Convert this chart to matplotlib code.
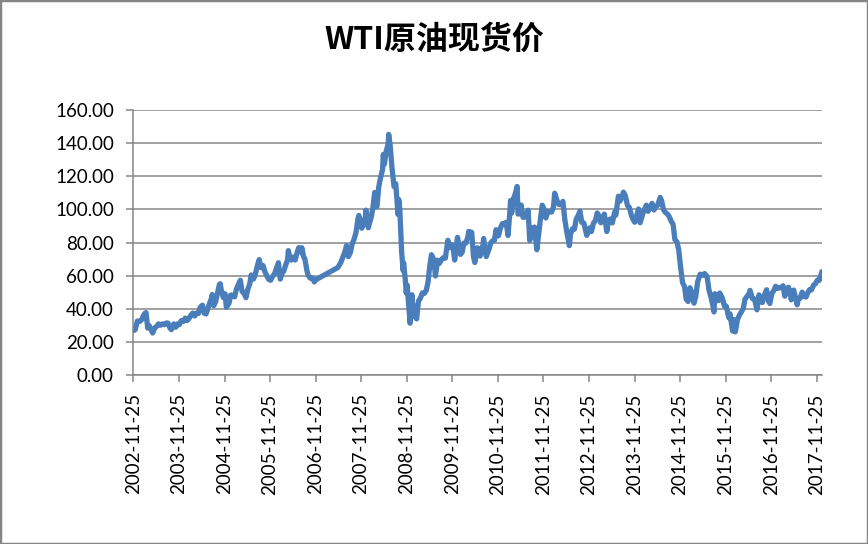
import matplotlib
matplotlib.use("Agg")
import matplotlib.pyplot as plt
import matplotlib.dates as mdates
from matplotlib.patches import Rectangle
import pandas as pd

# WTI spot price (roughly twice a month, plus peaks/troughs)
dates = [
    "2002-11-25", "2002-12-10", "2002-12-27", "2003-01-15", "2003-01-31", "2003-02-14", "2003-02-27",
    "2003-03-07", "2003-03-20", "2003-04-01", "2003-04-29", "2003-05-15", "2003-05-30", "2003-06-15",
    "2003-06-30", "2003-07-15", "2003-07-31", "2003-08-15", "2003-08-29", "2003-09-15", "2003-09-26",
    "2003-10-15", "2003-10-31", "2003-11-14", "2003-11-28", "2003-12-15", "2003-12-31", "2004-01-15",
    "2004-01-30", "2004-02-13", "2004-02-27", "2004-03-15", "2004-03-31", "2004-04-15", "2004-04-30",
    "2004-05-14", "2004-06-01", "2004-06-15", "2004-06-30", "2004-07-15", "2004-07-30", "2004-08-13",
    "2004-08-19", "2004-08-31", "2004-09-15", "2004-09-30", "2004-10-15", "2004-10-22", "2004-10-29",
    "2004-11-15", "2004-11-30", "2004-12-10", "2004-12-31", "2005-01-14", "2005-01-31", "2005-02-14",
    "2005-02-28", "2005-03-15", "2005-04-01", "2005-04-15", "2005-04-29", "2005-05-16", "2005-05-31",
    "2005-06-15", "2005-06-27", "2005-07-15", "2005-07-29", "2005-08-15", "2005-08-30", "2005-09-15",
    "2005-09-30", "2005-10-14", "2005-10-31", "2005-11-15", "2005-11-30", "2005-12-15", "2005-12-30",
    "2006-01-13", "2006-01-31", "2006-02-15", "2006-02-28", "2006-03-15", "2006-03-31", "2006-04-14",
    "2006-04-21", "2006-05-05", "2006-05-15", "2006-05-31", "2006-06-15", "2006-06-30", "2006-07-14",
    "2006-07-31", "2006-08-07", "2006-08-21", "2006-08-31", "2006-09-15", "2006-09-25", "2006-10-13",
    "2006-10-31", "2006-11-15", "2006-11-24",
    # gap in the source data until late May 2007
    "2007-05-23", "2007-06-15", "2007-06-29", "2007-07-16", "2007-07-31", "2007-08-15", "2007-08-31",
    "2007-09-14", "2007-09-28", "2007-10-15", "2007-10-31", "2007-11-07", "2007-11-15", "2007-11-30",
    "2007-12-14", "2007-12-31", "2008-01-02", "2008-01-22", "2008-01-31", "2008-02-15", "2008-02-29",
    "2008-03-13", "2008-03-20", "2008-03-31", "2008-04-15", "2008-04-28", "2008-05-15", "2008-05-21",
    "2008-05-30", "2008-06-13", "2008-06-30", "2008-07-03", "2008-07-15", "2008-07-31", "2008-08-15",
    "2008-08-29", "2008-09-16", "2008-09-22", "2008-09-30", "2008-10-15", "2008-10-27", "2008-10-31",
    "2008-11-14", "2008-11-21", "2008-11-28", "2008-12-10", "2008-12-22", "2008-12-31", "2009-01-06",
    "2009-01-15", "2009-01-30", "2009-02-12", "2009-02-27", "2009-03-13", "2009-03-31", "2009-04-15",
    "2009-04-30", "2009-05-15", "2009-05-29", "2009-06-11", "2009-06-30", "2009-07-13", "2009-07-31",
    "2009-08-14", "2009-08-31", "2009-09-15", "2009-09-30", "2009-10-21", "2009-10-30", "2009-11-16",
    "2009-11-30", "2009-12-14", "2009-12-31", "2010-01-06", "2010-01-29", "2010-02-12", "2010-02-26",
    "2010-03-15", "2010-03-31", "2010-04-06", "2010-04-30", "2010-05-14", "2010-05-25", "2010-06-15",
    "2010-06-30", "2010-07-06", "2010-07-30", "2010-08-03", "2010-08-24", "2010-09-15", "2010-09-30",
    "2010-10-15", "2010-10-29", "2010-11-11", "2010-11-30", "2010-12-15", "2010-12-31", "2011-01-14",
    "2011-01-31", "2011-02-15", "2011-02-28", "2011-03-07", "2011-03-16", "2011-03-31", "2011-04-15",
    "2011-04-29", "2011-05-06", "2011-05-16", "2011-05-31", "2011-06-15", "2011-06-30", "2011-07-15",
    "2011-07-26", "2011-08-08", "2011-08-31", "2011-09-15", "2011-10-04", "2011-10-31", "2011-11-16",
    "2011-11-30", "2011-12-15", "2011-12-30", "2012-01-13", "2012-01-31", "2012-02-15", "2012-02-24",
    "2012-03-15", "2012-03-30", "2012-04-16", "2012-04-30", "2012-05-15", "2012-05-31", "2012-06-21",
    "2012-06-29", "2012-07-16", "2012-07-31", "2012-08-15", "2012-08-31", "2012-09-14", "2012-09-28",
    "2012-10-15", "2012-11-07", "2012-11-30", "2012-12-14", "2012-12-31", "2013-01-15", "2013-01-30",
    "2013-02-15", "2013-02-28", "2013-03-15", "2013-03-28", "2013-04-17", "2013-04-30", "2013-05-15",
    "2013-05-31", "2013-06-19", "2013-06-28", "2013-07-19", "2013-07-31", "2013-08-15", "2013-08-28",
    "2013-09-13", "2013-09-30", "2013-10-15", "2013-10-31", "2013-11-15", "2013-11-27", "2013-12-13",
    "2013-12-27", "2014-01-09", "2014-01-31", "2014-02-14", "2014-02-28", "2014-03-14", "2014-03-31",
    "2014-04-15", "2014-04-30", "2014-05-15", "2014-05-30", "2014-06-19", "2014-06-30", "2014-07-15",
    "2014-07-31", "2014-08-15", "2014-08-29", "2014-09-15", "2014-09-30", "2014-10-15", "2014-10-31",
    "2014-11-14", "2014-11-28", "2014-12-15", "2014-12-31", "2015-01-13", "2015-01-28", "2015-02-13",
    "2015-02-27", "2015-03-17", "2015-03-31", "2015-04-15", "2015-04-30", "2015-05-06", "2015-05-29",
    "2015-06-10", "2015-06-30", "2015-07-15", "2015-07-31", "2015-08-14", "2015-08-24", "2015-08-31",
    "2015-09-15", "2015-09-30", "2015-10-09", "2015-10-30", "2015-11-16", "2015-11-30", "2015-12-21",
    "2015-12-31", "2016-01-20", "2016-01-29", "2016-02-11", "2016-02-29", "2016-03-15", "2016-03-31",
    "2016-04-15", "2016-04-29", "2016-05-16", "2016-05-31", "2016-06-08", "2016-06-27", "2016-07-15",
    "2016-08-02", "2016-08-19", "2016-08-31", "2016-09-15", "2016-09-30", "2016-10-19", "2016-11-03",
    "2016-11-14", "2016-11-30", "2016-12-15", "2016-12-30", "2017-01-13", "2017-01-31", "2017-02-15",
    "2017-02-28", "2017-03-14", "2017-03-31", "2017-04-12", "2017-04-28", "2017-05-04", "2017-05-24",
    "2017-06-21", "2017-06-30", "2017-07-14", "2017-07-31", "2017-08-15", "2017-08-31", "2017-09-15",
    "2017-09-29", "2017-10-13", "2017-10-31", "2017-11-15", "2017-11-30", "2017-12-15", "2017-12-29",
    "2018-01-03", "2018-01-05",
]
prices = [
    26.9, 27.5, 32.7, 32.5, 33.5, 36.0, 37.5,
    37.8, 28.5, 30.0, 25.5, 28.5, 29.5, 31.0,
    30.2, 31.0, 30.5, 31.5, 31.5, 28.5, 27.5,
    31.0, 29.0, 31.0, 30.5, 33.0, 32.5, 34.5,
    33.0, 34.0, 36.0, 37.5, 35.8, 37.5, 37.3,
    41.0, 42.3, 37.5, 37.0, 40.5, 43.8, 46.5,
    48.7, 42.0, 44.5, 49.6, 54.8, 55.2, 51.8,
    46.9, 49.1, 41.0, 43.4, 48.4, 48.2, 47.3,
    51.8, 54.6, 57.3, 50.5, 49.7, 46.8, 51.9,
    55.0, 60.5, 58.0, 60.6, 66.0, 69.8, 64.9,
    66.2, 62.6, 59.8, 57.8, 57.3, 59.6, 61.0,
    64.0, 67.9, 58.0, 61.4, 62.8, 66.6, 69.5,
    75.2, 70.2, 69.5, 71.3, 69.5, 74.0, 77.0,
    74.4, 76.9, 71.4, 70.3, 63.8, 60.5, 58.6,
    58.7, 56.3, 57.5,
    65.0, 68.0, 70.7, 74.0, 78.2, 71.6, 74.0,
    79.1, 81.7, 86.0, 94.5, 96.4, 94.0, 88.7,
    91.3, 96.0, 99.6, 89.0, 91.7, 95.5, 101.8,
    110.3, 101.8, 101.6, 113.8, 118.8, 124.1, 133.2,
    127.4, 134.9, 140.0, 145.3, 138.7, 124.1, 113.8,
    115.5, 97.0, 106.0, 100.6, 74.5, 63.2, 67.8,
    57.0, 49.6, 54.4, 43.0, 31.4, 44.6, 48.6,
    35.4, 41.7, 34.0, 44.8, 46.3, 49.7, 49.4,
    51.1, 56.3, 66.3, 72.7, 69.9, 59.9, 69.4,
    67.5, 69.9, 71.0, 70.6, 81.4, 77.0, 78.9,
    77.3, 69.5, 79.4, 83.2, 72.9, 74.1, 79.7,
    79.8, 83.8, 86.8, 86.2, 71.6, 68.0, 76.9,
    75.6, 71.9, 78.9, 82.5, 71.6, 76.0, 79.9,
    81.2, 81.4, 87.8, 84.1, 88.6, 91.4, 91.5,
    92.2, 84.3, 96.9, 105.4, 97.9, 106.7, 109.7,
    113.9, 97.2, 97.4, 102.7, 95.3, 95.4, 97.2,
    99.6, 81.3, 88.8, 89.4, 75.7, 93.2, 102.6,
    100.4, 94.9, 98.8, 98.7, 98.5, 101.8, 109.8,
    105.1, 103.0, 102.9, 104.9, 94.0, 86.5, 78.2,
    84.9, 88.4, 88.1, 94.3, 96.5, 99.0, 92.2,
    91.8, 84.4, 88.9, 86.7, 91.8, 93.3, 97.9,
    95.9, 92.0, 93.5, 97.2, 86.7, 93.5, 94.3,
    91.9, 98.4, 96.6, 108.0, 105.0, 107.3, 110.5,
    108.2, 102.3, 101.2, 96.4, 93.8, 92.3, 96.6,
    100.3, 92.0, 97.5, 100.3, 102.6, 98.9, 101.6,
    103.7, 99.7, 101.5, 102.7, 107.3, 105.4, 99.9,
    98.2, 97.3, 95.9, 92.9, 91.2, 81.8, 80.5,
    75.8, 66.2, 55.9, 53.5, 45.9, 44.5, 52.8,
    49.8, 43.5, 47.6, 56.4, 59.6, 61.0, 60.3,
    61.4, 59.5, 51.4, 47.1, 42.5, 38.2, 49.2,
    45.0, 45.1, 49.6, 46.6, 41.7, 41.7, 34.7,
    37.0, 26.7, 33.6, 26.2, 33.8, 36.3, 38.3,
    40.4, 45.9, 47.7, 49.1, 51.2, 46.3, 45.9,
    39.5, 48.5, 44.7, 43.9, 48.2, 51.6, 44.7,
    43.3, 49.4, 51.0, 53.7, 52.4, 52.8, 53.1,
    54.0, 47.7, 50.6, 53.1, 49.3, 45.5, 51.4,
    42.5, 46.0, 46.5, 50.2, 47.6, 47.2, 49.9,
    51.7, 51.5, 54.4, 55.3, 57.4, 57.3, 60.4,
    61.6, 62.5,
]
title = "WTI原油现货价"

gray = "#868686"
blue = "#4A7EBB"

plt.rcParams["font.family"] = ["Lato", "DejaVu Sans"]

x = pd.to_datetime(dates)

fig = plt.figure(figsize=(8.68, 5.44), dpi=100)
ax = fig.add_axes([0.1536, 0.3101, 0.947 - 0.1536, 0.7978 - 0.3101])

ax.plot(x, prices, color=blue, lw=3.8, solid_joinstyle="round", solid_capstyle="round")

ax.set_ylim(0, 160)
ax.set_yticks(range(0, 161, 20))
ax.yaxis.set_major_formatter(matplotlib.ticker.FuncFormatter(lambda v, p: f"{v:.2f}"))
ax.grid(axis="y", color=gray, lw=1.1)
ax.set_axisbelow(True)

ax.set_xlim(pd.Timestamp("2002-11-25"), pd.Timestamp("2018-01-06"))
ax.set_xticks(pd.date_range("2002-11-25", "2017-11-25", freq=pd.DateOffset(years=1)))
ax.xaxis.set_major_formatter(mdates.DateFormatter("%Y-%m-%d"))
plt.setp(ax.get_xticklabels(), rotation=90)

for s in ["top", "right"]:
    ax.spines[s].set_visible(False)
for s in ["left", "bottom"]:
    ax.spines[s].set_color(gray)
    ax.spines[s].set_linewidth(1.1)
ax.tick_params(colors=gray, labelcolor="black", labelsize=13.5, length=5, width=1.1)
ax.tick_params(axis="y", pad=9)
ax.tick_params(axis="x", pad=8)

fig.text(0.5, 0.9265, title, ha="center", va="center", fontsize=23, fontweight="bold",
         family=["Noto Sans CJK SC", "DejaVu Sans"])

fig.patches.append(Rectangle((0, 0), 1, 1, transform=fig.transFigure, fill=False,
                             edgecolor=gray, lw=2.5))

fig.savefig("out.png", dpi=100)
